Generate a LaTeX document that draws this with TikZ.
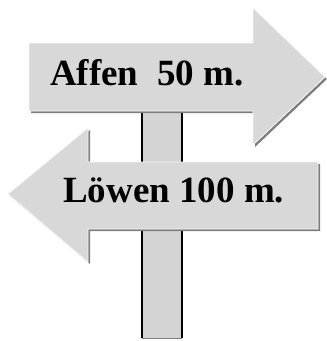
\documentclass[tikz,border=0pt]{standalone}
\usepackage{fontspec}
\setmainfont{Liberation Serif}
\usetikzlibrary{calc}
\definecolor{signgray}{RGB}{216,216,216}
\definecolor{postgray}{RGB}{212,212,212}
\definecolor{shadegray}{RGB}{125,125,125}
\tikzset{
    x=1pt,y=-1pt,
    sign/.style = {fill=signgray, draw=white!80!signgray, line width=0.8pt, line join=miter},
    shade/.style = {fill=shadegray},
    post/.style = {fill=postgray},
    label/.style = {inner sep=0pt, anchor=base west, font=\fontsize{37}{40}\selectfont\bfseries}
}
\begin{document}
\begin{tikzpicture}
    \useasboundingbox (0,0) rectangle (327,341);

    %% Post
    \fill[post] (142,110) rectangle (182,338);
    \draw[line width=1.6pt] (142,110) -- (142,338);
    \draw[line width=1.6pt] (182,110) -- (182,338);
    \draw[shadegray, line width=0.6pt] (142,338) -- (182,338);

    %% Right arrow (top)
    \path[shade, shift={(2,2)}] (29,43) -- (253,43) -- (253,8) -- (325,77)
        -- (253,145) -- (253,111) -- (29,111) -- cycle;
    \path[sign] (29,43) -- (253,43) -- (253,8) -- (325,77)
        -- (253,145) -- (253,111) -- (29,111) -- cycle;
    \node[label] (affen) at (50,85) {Affen\ \ 50 m.};

    %% Left arrow (bottom)
    \path[shade, shift={(2,2)}] (318,162) -- (88,162) -- (88,128) -- (8,194)
        -- (88,262) -- (88,229) -- (318,229) -- cycle;
    \path[sign] (318,162) -- (88,162) -- (88,128) -- (8,194)
        -- (88,262) -- (88,229) -- (318,229) -- cycle;
    \node[label] (loewen) at (63,202) {Löwen 100 m.};
\end{tikzpicture}
\end{document}
